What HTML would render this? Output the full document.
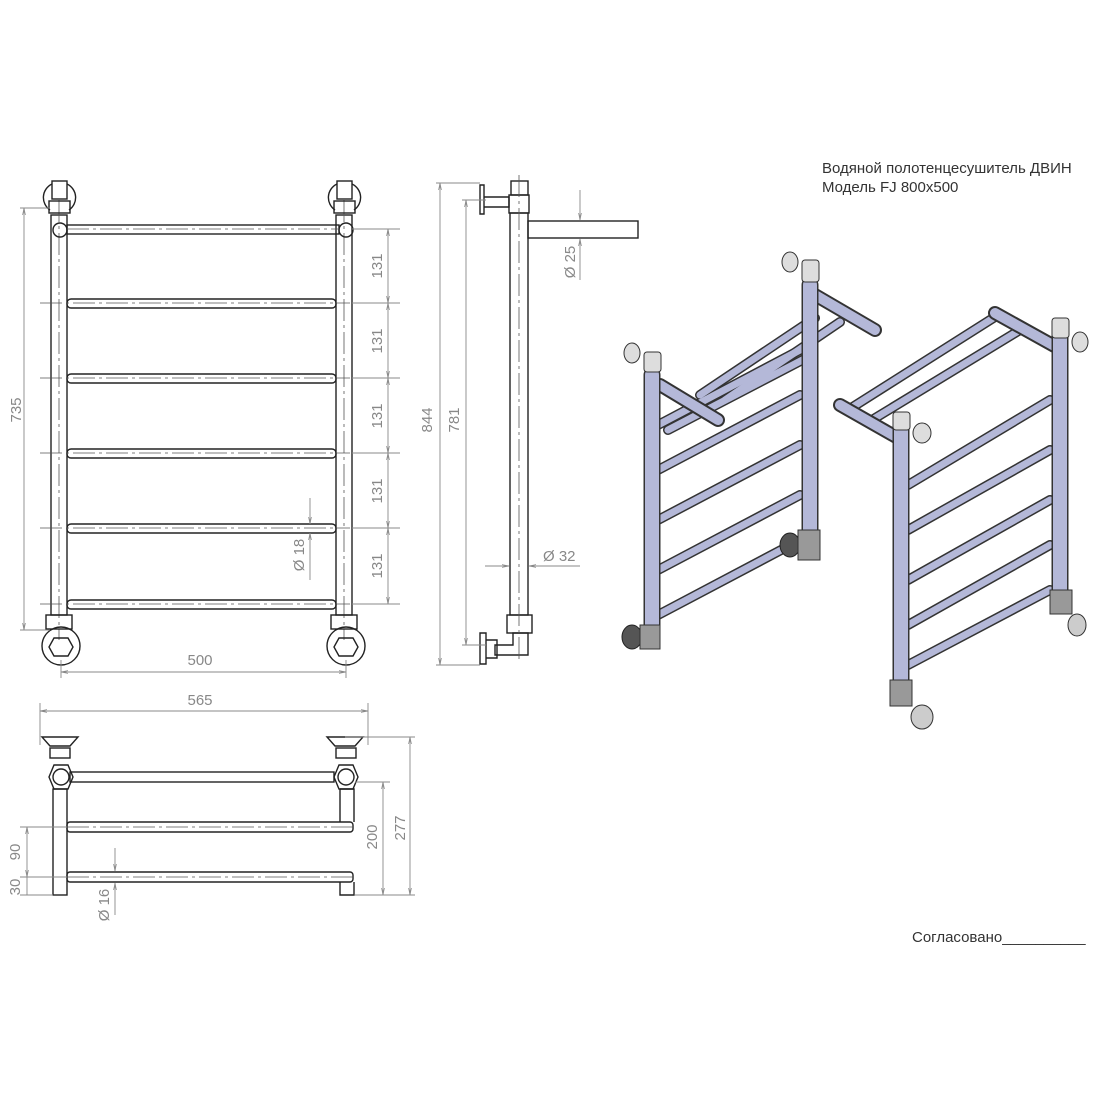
<!DOCTYPE html>
<html><head><meta charset="utf-8"><style>
body{margin:0;background:#fff}
svg{display:block}
.k{stroke:#222;fill:none;stroke-width:1.4}
.d{stroke:#888;fill:none;stroke-width:0.9}
.c{stroke:#555;fill:none;stroke-width:0.8;stroke-dasharray:22 4 3 4}
.t{font-family:"Liberation Sans",sans-serif;fill:#888;font-size:15px}
.h{font-family:"Liberation Sans",sans-serif;fill:#333;font-size:15px}
.to{stroke:#333;stroke-linecap:round;fill:none}
.ti{stroke:#b4b8d8;stroke-linecap:round;fill:none}
</style></head><body>
<svg width="1096" height="1096" viewBox="0 0 1096 1096" xmlns="http://www.w3.org/2000/svg">
<defs><marker id="a" viewBox="0 0 10 10" refX="10" refY="5" markerWidth="8" markerHeight="8" orient="auto-start-reverse"><path d="M0,3 L10,5 L0,7" fill="none" stroke="#888"/></marker></defs>

<!-- FRONT VIEW -->
<g>
<rect class="k" x="51" y="215" width="16" height="400"/>
<rect class="k" x="336" y="215" width="16" height="400"/>
<line class="c" x1="59" y1="200" x2="59" y2="640"/>
<line class="c" x1="344" y1="200" x2="344" y2="640"/>
<!-- top fittings -->
<rect class="k" x="52" y="181" width="15" height="18"/>
<rect class="k" x="337" y="181" width="15" height="18"/>
<path class="k" d="M52,184 A15,15 0 0 0 50,210 M67,184 A15,15 0 0 1 69,210 M337,184 A15,15 0 0 0 335,210 M352,184 A15,15 0 0 1 354,210"/>
<rect class="k" x="49" y="201" width="21" height="12"/>
<rect class="k" x="334" y="201" width="21" height="12"/>
<circle class="k" cx="60" cy="230" r="7"/><circle class="k" cx="346" cy="230" r="7"/>
<rect class="k" x="67" y="225" width="272" height="9"/>
<line class="c" x1="67" y1="229" x2="339" y2="229"/>
<g class="k">
<rect x="67" y="299" width="269" height="9" rx="4"/>
<rect x="67" y="374" width="269" height="9" rx="4"/>
<rect x="67" y="449" width="269" height="9" rx="4"/>
<rect x="67" y="524" width="269" height="9" rx="4"/>
<rect x="67" y="600" width="269" height="9" rx="4"/>
</g>
<g class="c"><line x1="40" y1="303" x2="350" y2="303"/><line x1="40" y1="378" x2="350" y2="378"/><line x1="40" y1="453" x2="350" y2="453"/><line x1="40" y1="528" x2="350" y2="528"/><line x1="40" y1="604" x2="350" y2="604"/></g>
<!-- bottom fittings -->
<rect class="k" x="46" y="615" width="26" height="14"/><rect class="k" x="331" y="615" width="26" height="14"/>
<circle class="k" cx="61" cy="646" r="19"/><circle class="k" cx="346" cy="646" r="19"/>
<polygon class="k" points="54,638 68,638 73,647 68,656 54,656 49,647"/>
<polygon class="k" points="339,638 353,638 358,647 353,656 339,656 334,647"/>
<!-- dims -->
<line class="d" x1="20" y1="208" x2="50" y2="208"/><line class="d" x1="20" y1="630" x2="50" y2="630"/>
<line class="d" x1="24" y1="208" x2="24" y2="630" marker-start="url(#a)" marker-end="url(#a)"/>
<text class="t" transform="translate(21,410) rotate(-90)" text-anchor="middle">735</text>
<g class="d"><line x1="352" y1="229" x2="400" y2="229"/><line x1="352" y1="303" x2="400" y2="303"/><line x1="352" y1="378" x2="400" y2="378"/><line x1="352" y1="453" x2="400" y2="453"/><line x1="352" y1="528" x2="400" y2="528"/><line x1="352" y1="604" x2="400" y2="604"/></g>
<g class="d" marker-start="url(#a)" marker-end="url(#a)"><line x1="388" y1="229" x2="388" y2="303"/><line x1="388" y1="303" x2="388" y2="378"/><line x1="388" y1="378" x2="388" y2="453"/><line x1="388" y1="453" x2="388" y2="528"/><line x1="388" y1="528" x2="388" y2="604"/></g>
<g class="t" text-anchor="middle"><text transform="translate(382,266) rotate(-90)">131</text><text transform="translate(382,341) rotate(-90)">131</text><text transform="translate(382,416) rotate(-90)">131</text><text transform="translate(382,491) rotate(-90)">131</text><text transform="translate(382,566) rotate(-90)">131</text></g>
<line class="d" x1="310" y1="498" x2="310" y2="524" marker-end="url(#a)"/><line class="d" x1="310" y1="533" x2="310" y2="580" marker-start="url(#a)"/>
<text class="t" transform="translate(304,555) rotate(-90)" text-anchor="middle">Ø 18</text>
<line class="d" x1="61" y1="660" x2="61" y2="678"/><line class="d" x1="346" y1="660" x2="346" y2="678"/>
<line class="d" x1="61" y1="672" x2="346" y2="672" marker-start="url(#a)" marker-end="url(#a)"/>
<text class="t" x="200" y="665" text-anchor="middle">500</text>
</g>

<!-- SIDE VIEW -->
<g>
<rect class="k" x="510" y="213" width="18" height="402"/>
<rect class="k" x="511" y="181" width="17" height="14"/>
<rect class="k" x="509" y="195" width="20" height="18"/>
<rect class="k" x="528" y="221" width="110" height="17"/>
<path class="k" d="M480,185 L484,185 L484,214 L480,214 Z M484,197 L509,197 L509,207 L484,207 Z"/>
<rect class="k" x="507" y="615" width="25" height="18"/>
<path class="k" d="M513,633 L528,633 L528,655 L495,655 L495,645 L513,645 Z"/>
<path class="k" d="M480,633 L486,633 L486,664 L480,664 Z M486,640 L497,640 L497,658 L486,658 Z"/>
<line class="c" x1="519" y1="175" x2="519" y2="660"/>
<line class="d" x1="436" y1="183" x2="480" y2="183"/><line class="d" x1="436" y1="665" x2="480" y2="665"/>
<line class="d" x1="440" y1="183" x2="440" y2="665" marker-start="url(#a)" marker-end="url(#a)"/>
<text class="t" transform="translate(432,420) rotate(-90)" text-anchor="middle">844</text>
<line class="d" x1="462" y1="200" x2="486" y2="200"/><line class="d" x1="462" y1="645" x2="486" y2="645"/>
<line class="d" x1="466" y1="200" x2="466" y2="645" marker-start="url(#a)" marker-end="url(#a)"/>
<text class="t" transform="translate(459,420) rotate(-90)" text-anchor="middle">781</text>
<line class="d" x1="580" y1="190" x2="580" y2="220" marker-end="url(#a)"/><line class="d" x1="580" y1="239" x2="580" y2="280" marker-start="url(#a)"/>
<text class="t" transform="translate(575,262) rotate(-90)" text-anchor="middle">Ø 25</text>
<line class="d" x1="485" y1="566" x2="509" y2="566" marker-end="url(#a)"/><line class="d" x1="529" y1="566" x2="580" y2="566" marker-start="url(#a)"/>
<text class="t" x="543" y="561">Ø 32</text>
</g>

<!-- TOP VIEW -->
<g>
<line class="d" x1="40" y1="703" x2="40" y2="745"/><line class="d" x1="368" y1="703" x2="368" y2="745"/>
<line class="d" x1="40" y1="711" x2="368" y2="711" marker-start="url(#a)" marker-end="url(#a)"/>
<text class="t" x="200" y="705" text-anchor="middle">565</text>
<path class="k" d="M42,737 L78,737 L70,746 L50,746 Z M327,737 L363,737 L355,746 L335,746 Z"/>
<rect class="k" x="50" y="748" width="20" height="10"/><rect class="k" x="336" y="748" width="20" height="10"/>
<polygon class="k" points="54,765 68,765 73,777 68,789 54,789 49,777"/>
<polygon class="k" points="339,765 353,765 358,777 353,789 339,789 334,777"/>
<circle class="k" cx="61" cy="777" r="8"/><circle class="k" cx="346" cy="777" r="8"/>
<rect class="k" x="70" y="772" width="264" height="10"/>
<rect class="k" x="53" y="789" width="14" height="106"/>
<path class="k" d="M340,789 L354,789 L354,822 M340,789 L340,822 M340,882 L340,895 L354,895 L354,882"/>
<rect class="k" x="67" y="822" width="286" height="10" rx="3"/>
<rect class="k" x="67" y="872" width="286" height="10" rx="3"/>
<line class="c" x1="67" y1="827" x2="353" y2="827"/><line class="c" x1="67" y1="877" x2="353" y2="877"/>
<line class="d" x1="345" y1="737" x2="415" y2="737"/><line class="d" x1="355" y1="782" x2="390" y2="782"/><line class="d" x1="355" y1="895" x2="415" y2="895"/>
<line class="d" x1="410" y1="737" x2="410" y2="895" marker-start="url(#a)" marker-end="url(#a)"/>
<line class="d" x1="383" y1="782" x2="383" y2="895" marker-start="url(#a)" marker-end="url(#a)"/>
<text class="t" transform="translate(405,828) rotate(-90)" text-anchor="middle">277</text>
<text class="t" transform="translate(377,837) rotate(-90)" text-anchor="middle">200</text>
<line class="d" x1="20" y1="827" x2="67" y2="827"/><line class="d" x1="20" y1="877" x2="67" y2="877"/><line class="d" x1="20" y1="895" x2="53" y2="895"/>
<line class="d" x1="27" y1="827" x2="27" y2="877" marker-start="url(#a)" marker-end="url(#a)"/>
<line class="d" x1="27" y1="877" x2="27" y2="895"/>
<text class="t" transform="translate(20,852) rotate(-90)" text-anchor="middle">90</text>
<text class="t" transform="translate(20,887) rotate(-90)" text-anchor="middle">30</text>
<line class="d" x1="115" y1="848" x2="115" y2="871" marker-end="url(#a)"/><line class="d" x1="115" y1="883" x2="115" y2="915" marker-start="url(#a)"/>
<text class="t" transform="translate(109,905) rotate(-90)" text-anchor="middle">Ø 16</text>
</g>

<!-- 3D LEFT -->
<g>
<g class="to" stroke-width="10">
<line x1="658" y1="425" x2="800" y2="350"/><line x1="658" y1="470" x2="800" y2="395"/><line x1="658" y1="520" x2="800" y2="445"/><line x1="658" y1="570" x2="800" y2="495"/><line x1="658" y1="615" x2="800" y2="540"/>
<line x1="668" y1="430" x2="812" y2="355"/><line x1="700" y1="395" x2="815" y2="318"/><line x1="725" y1="400" x2="840" y2="322"/>
</g>
<g class="ti" stroke-width="7">
<line x1="658" y1="425" x2="800" y2="350"/><line x1="658" y1="470" x2="800" y2="395"/><line x1="658" y1="520" x2="800" y2="445"/><line x1="658" y1="570" x2="800" y2="495"/><line x1="658" y1="615" x2="800" y2="540"/>
<line x1="668" y1="430" x2="812" y2="355"/><line x1="700" y1="395" x2="815" y2="318"/><line x1="725" y1="400" x2="840" y2="322"/>
</g>
<line class="to" stroke-width="14" x1="660" y1="385" x2="718" y2="420"/><line class="ti" stroke-width="10" x1="660" y1="385" x2="718" y2="420" stroke="#8a8ea8"/>
<line class="to" stroke-width="14" x1="815" y1="295" x2="875" y2="330"/><line class="ti" stroke-width="10" x1="815" y1="295" x2="875" y2="330" stroke="#8a8ea8"/>
<line class="to" stroke-width="17" x1="652" y1="375" x2="652" y2="630" stroke-linecap="butt"/><line class="ti" stroke-width="14" x1="652" y1="375" x2="652" y2="630" stroke-linecap="butt"/>
<line class="to" stroke-width="17" x1="810" y1="285" x2="810" y2="540" stroke-linecap="butt"/><line class="ti" stroke-width="14" x1="810" y1="285" x2="810" y2="540" stroke-linecap="butt"/>
<rect x="644" y="352" width="17" height="20" rx="3" fill="#ddd" stroke="#333"/>
<rect x="802" y="260" width="17" height="22" rx="3" fill="#ddd" stroke="#333"/>
<ellipse cx="632" cy="353" rx="8" ry="10" fill="#ddd" stroke="#333"/><ellipse cx="790" cy="262" rx="8" ry="10" fill="#ddd" stroke="#333"/>
<ellipse cx="632" cy="637" rx="10" ry="12" fill="#555" stroke="#222"/><rect x="640" y="625" width="20" height="24" fill="#999" stroke="#333"/>
<ellipse cx="790" cy="545" rx="10" ry="12" fill="#555" stroke="#222"/><rect x="798" y="530" width="22" height="30" fill="#999" stroke="#333"/>
</g>

<!-- 3D RIGHT -->
<g>
<g class="to" stroke-width="10">
<line x1="908" y1="485" x2="1050" y2="400"/><line x1="908" y1="530" x2="1050" y2="450"/><line x1="908" y1="580" x2="1050" y2="500"/><line x1="908" y1="625" x2="1050" y2="545"/><line x1="908" y1="665" x2="1050" y2="590"/>
<line x1="848" y1="410" x2="998" y2="315"/><line x1="872" y1="420" x2="1020" y2="330"/>
</g>
<g class="ti" stroke-width="7">
<line x1="908" y1="485" x2="1050" y2="400"/><line x1="908" y1="530" x2="1050" y2="450"/><line x1="908" y1="580" x2="1050" y2="500"/><line x1="908" y1="625" x2="1050" y2="545"/><line x1="908" y1="665" x2="1050" y2="590"/>
<line x1="848" y1="410" x2="998" y2="315"/><line x1="872" y1="420" x2="1020" y2="330"/>
</g>
<line class="to" stroke-width="14" x1="840" y1="405" x2="898" y2="438"/><line class="ti" stroke-width="10" x1="840" y1="405" x2="898" y2="438" stroke="#8a8ea8"/>
<line class="to" stroke-width="14" x1="995" y1="313" x2="1058" y2="348"/><line class="ti" stroke-width="10" x1="995" y1="313" x2="1058" y2="348" stroke="#8a8ea8"/>
<line class="to" stroke-width="17" x1="901" y1="425" x2="901" y2="685" stroke-linecap="butt"/><line class="ti" stroke-width="14" x1="901" y1="425" x2="901" y2="685" stroke-linecap="butt"/>
<line class="to" stroke-width="17" x1="1060" y1="330" x2="1060" y2="595" stroke-linecap="butt"/><line class="ti" stroke-width="14" x1="1060" y1="330" x2="1060" y2="595" stroke-linecap="butt"/>
<rect x="893" y="412" width="17" height="18" rx="3" fill="#ddd" stroke="#333"/><ellipse cx="922" cy="433" rx="9" ry="10" fill="#ddd" stroke="#333"/>
<rect x="1052" y="318" width="17" height="20" rx="3" fill="#ddd" stroke="#333"/><ellipse cx="1080" cy="342" rx="8" ry="10" fill="#ddd" stroke="#333"/>
<rect x="890" y="680" width="22" height="26" fill="#999" stroke="#333"/><ellipse cx="922" cy="717" rx="11" ry="12" fill="#ccc" stroke="#333"/>
<rect x="1050" y="590" width="22" height="24" fill="#999" stroke="#333"/><ellipse cx="1077" cy="625" rx="9" ry="11" fill="#ccc" stroke="#333"/>
</g>

<text class="h" x="822" y="173">Водяной полотенцесушитель ДВИН</text>
<text class="h" x="822" y="192">Модель FJ 800x500</text>
<text class="h" x="912" y="942">Согласовано__________</text>
</svg>
</body></html>
